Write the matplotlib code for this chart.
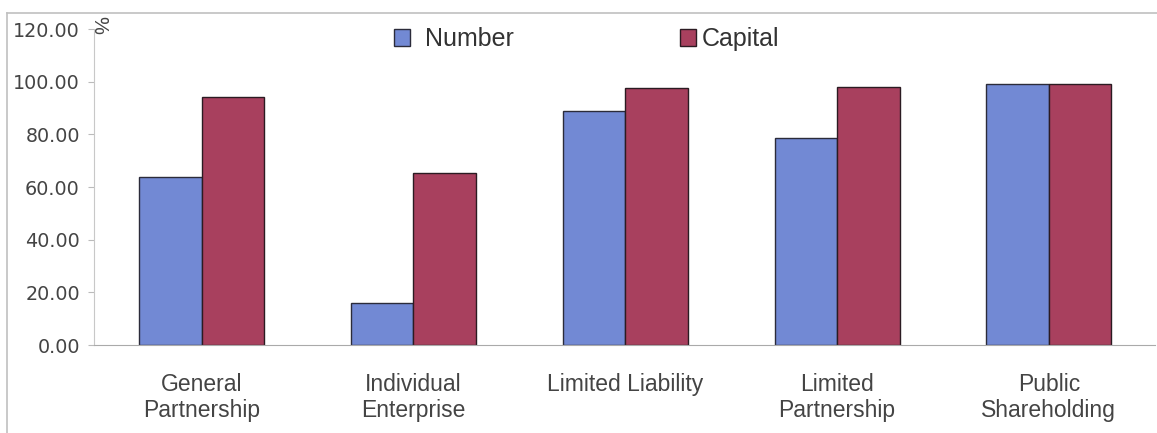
import matplotlib
matplotlib.use("Agg")
import matplotlib.pyplot as plt
import numpy as np
from matplotlib.lines import Line2D
from matplotlib.patches import Patch

categories = ["General\nPartnership", "Individual\nEnterprise", "Limited Liability",
              "Limited\nPartnership", "Public\nShareholding"]
number = [64.0, 16.0, 89.0, 78.7, 99.0]
capital = [94.3, 65.4, 97.7, 97.8, 99.0]
yticks = [0, 20, 40, 60, 80, 100, 120]

BLUE, RED = "#7289D4", "#A8405E"

plt.rcParams["font.family"] = ["Liberation Sans", "DejaVu Sans"]

fig = plt.figure(figsize=(11.57, 4.33), dpi=100)
ax = fig.add_axes([0.081, 0.203, 0.917, 0.730])

x = np.arange(len(categories))
w = 0.295
ax.bar(x - w / 2, number, w, color=BLUE, edgecolor="#2b2b3a", linewidth=1.0)
ax.bar(x + w / 2, capital, w, color=RED, edgecolor="#2b1b22", linewidth=1.0)

ax.set_xlim(-0.51, 4.5)
ax.set_ylim(0, 120)
ax.set_yticks(yticks)
ax.set_yticklabels(["%.2f" % v for v in yticks], fontsize=13.8, color="#444444",
                   family="DejaVu Sans")
ax.set_xticks(x)
ax.set_xticklabels(categories, fontsize=16.5, color="#444444", linespacing=1.15)
ax.tick_params(axis="x", length=0, pad=20)
ax.tick_params(axis="y", length=4, color="#bbbbbb", pad=6)

for s in ["top", "right"]:
    ax.spines[s].set_visible(False)
ax.spines["left"].set_color("#c8c8c8")
ax.spines["bottom"].set_color("#aaaaaa")

ax.text(0.005, 1.012, "%", transform=ax.transAxes, rotation=-90, fontsize=14.5,
        color="#444444", ha="center", va="center")

# two single-entry legends, spaced as in the original
leg_kw = dict(loc="center left", frameon=False, fontsize=18, handlelength=0.64,
              handleheight=0.64, borderpad=0, borderaxespad=0, labelcolor="#333333")
leg1 = ax.legend(handles=[Patch(facecolor=BLUE, edgecolor="#2b2b3a", label="Number")],
                 bbox_to_anchor=(0.283, 0.968), handletextpad=0.6, **leg_kw)
ax.add_artist(leg1)
ax.legend(handles=[Patch(facecolor=RED, edgecolor="#2b1b22", label="Capital")],
          bbox_to_anchor=(0.5526, 0.968), handletextpad=0.24, **leg_kw)

# outer chart border (left and top)
fig.add_artist(Line2D([0.006, 0.006], [0.0, 0.970], transform=fig.transFigure,
                      color="#c0c0c0", linewidth=1.2))
fig.add_artist(Line2D([0.006, 1.0], [0.970, 0.970], transform=fig.transFigure,
                      color="#c0c0c0", linewidth=1.2))

fig.savefig("out.png", dpi=100, facecolor="white")
